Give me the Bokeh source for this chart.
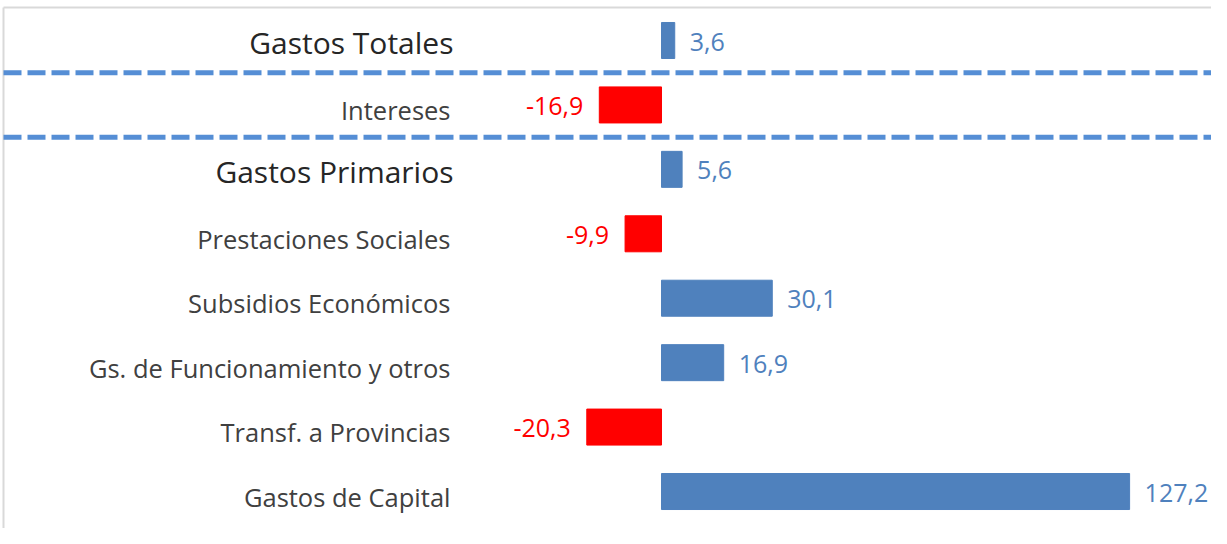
from bokeh.plotting import figure
from bokeh.models import Range1d, ColumnDataSource
from bokeh.core.properties import value
from bokeh.embed import file_html
from bokeh.resources import INLINE

categories = ["Gastos Totales", "Intereses", "Gastos Primarios", "Prestaciones Sociales",
              "Subsidios Económicos", "Gs. de Funcionamiento y otros",
              "Transf. a Provincias", "Gastos de Capital"]
values = [3.6, -16.9, 5.6, -9.9, 30.1, 16.9, -20.3, 127.2]
value_labels = ["3,6", "-16,9", "5,6", "-9,9", "30,1", "16,9", "-20,3", "127,2"]
is_header = [True, False, True, False, False, False, False, False]
separators = [0.5, 1.5]

W, H = 1211, 528
FONT = "Open Sans"
BLUE = "#4f81bd"
RED = "#ff0000"
PX_X = 3.68     # pixels per unit on x
PX_Y = 64.43    # pixels per category
ZERO_PX = 661

idx = list(range(len(categories)))
left = [min(0, v) for v in values]
right = [max(0, v) for v in values]
colors = [BLUE if v >= 0 else RED for v in values]

xs = -ZERO_PX / PX_X
ys = -40 / PX_Y
p = figure(width=W, height=H, output_backend="svg", toolbar_location=None,
           x_range=Range1d(xs, xs + W / PX_X), y_range=Range1d(ys + H / PX_Y, ys),
           min_border=0, min_border_left=0, min_border_right=0,
           min_border_top=0, min_border_bottom=0)
p.axis.visible = False
p.grid.visible = False
p.outline_line_color = None
p.background_fill_color = "white"

x1 = p.x_range.end
# chart area border (top and left edge)
bx = xs + 3 / PX_X
by = ys + 7 / PX_Y
p.segment(x0=[bx, bx], y0=[by, by], x1=[x1, bx], y1=[by, p.y_range.start],
          line_color="#d9d9d9", line_width=2)

# dashed separators
p.segment(x0=[bx] * len(separators), y0=separators, x1=[x1] * len(separators), y1=separators,
          line_color="#558ed5", line_width=5, line_dash="18 6")

src = ColumnDataSource(dict(y=idx, left=left, right=right, color=colors))
p.hbar(y="y", left="left", right="right", height=0.559, color="color", source=src)

# category labels
hdr = ColumnDataSource(dict(y=[i for i in idx if is_header[i]],
                            t=[categories[i] for i in idx if is_header[i]],
                            x=[0] * sum(is_header)))
reg = ColumnDataSource(dict(y=[i for i in idx if not is_header[i]],
                            t=[categories[i] for i in idx if not is_header[i]],
                            x=[0] * (len(idx) - sum(is_header))))
p.text(x="x", y="y", text="t", source=hdr, x_offset=-(ZERO_PX - 453), y_offset=2,
       text_align="right", text_baseline="middle", text_font=value(FONT),
       text_font_size="30px", text_color="#262626")
p.text(x="x", y="y", text="t", source=reg, x_offset=-(ZERO_PX - 450), y_offset=5,
       text_align="right", text_baseline="middle", text_font=value(FONT),
       text_font_size="25.5px", text_color="#404040")

pos = [i for i in idx if values[i] >= 0]
neg = [i for i in idx if values[i] < 0]
ps = ColumnDataSource(dict(x=[values[i] for i in pos], y=pos, t=[value_labels[i] for i in pos]))
ns = ColumnDataSource(dict(x=[values[i] for i in neg], y=neg, t=[value_labels[i] for i in neg]))
p.text(x="x", y="y", text="t", source=ps, x_offset=15, y_offset=1,
       text_align="left", text_baseline="middle", text_font=value(FONT),
       text_font_size="25px", text_color=BLUE)
p.text(x="x", y="y", text="t", source=ns, x_offset=-16, y_offset=1,
       text_align="right", text_baseline="middle", text_font=value(FONT),
       text_font_size="25px", text_color=RED)

open("out.html", "w").write(file_html(p, INLINE))
